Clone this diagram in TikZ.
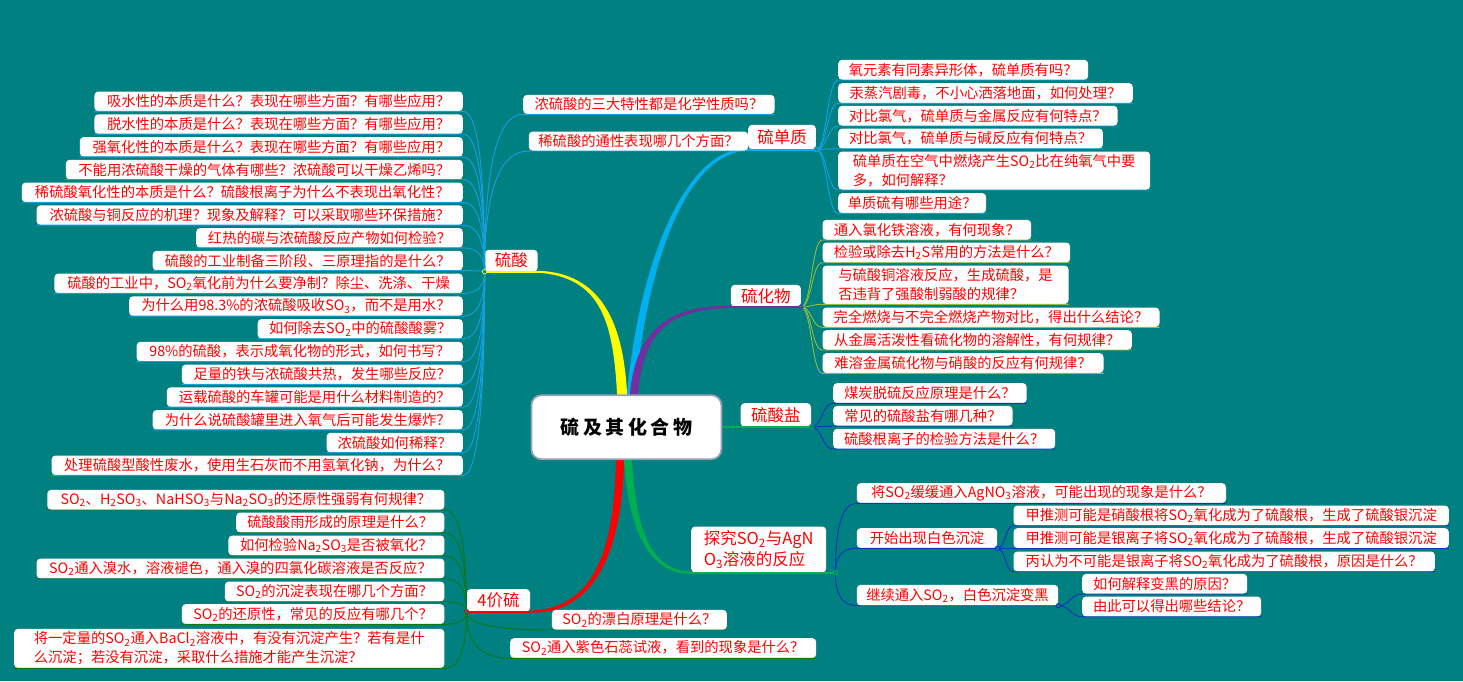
\documentclass[tikz,border=0pt]{standalone}
\usepackage{fontspec}
\setmainfont{Noto Sans CJK SC}
\usetikzlibrary{calc}
\definecolor{bgteal}{RGB}{0,128,128}
\definecolor{qred}{RGB}{255,0,0}
\definecolor{brY}{RGB}{255,255,0}
\definecolor{brB}{RGB}{0,176,240}
\definecolor{brP}{RGB}{112,48,160}
\definecolor{brR}{RGB}{255,0,0}
\definecolor{brG}{RGB}{0,176,80}
\definecolor{lnSky}{RGB}{20,160,225}
\definecolor{lnOlive}{RGB}{146,190,60}
\definecolor{lnNavy}{RGB}{20,50,190}
\definecolor{lnDG}{RGB}{10,120,20}
\definecolor{cborder}{RGB}{150,160,185}
\pgfdeclarelayer{bg}\pgfdeclarelayer{br}\pgfsetlayers{bg,br,main}
\newcommand\qfont{\fontsize{14.3}{19}\selectfont}
\newcommand\bfont{\fontsize{16.5}{21}\selectfont}
\newcommand\sbs[1]{\textsubscript{#1}}
\tikzset{
  qbox/.style={fill=white, text=qred, rounded corners=4pt, inner xsep=6pt, inner ysep=0pt, font=\qfont, align=left},
  bbox/.style={qbox, font=\bfont},
  sk/.style={draw=lnSky, line width=0.9pt},
  ol/.style={draw=lnOlive, line width=0.9pt},
  nv/.style={draw=lnNavy, line width=0.9pt},
  dg/.style={draw=lnDG, line width=0.9pt},
}
% name, left, top, right, bottom, text
\newcommand\boxR[6]{\node[qbox, anchor=south west, minimum width={#4-#2}, minimum height={#5-#3}] (#1) at (#2,#5) {#6};}
\newcommand\boxL[6]{\node[qbox, anchor=south east, minimum width={#4-#2}, minimum height={#5-#3}] (#1) at (#4,#5) {#6};}
\newcommand\brR[6]{\node[bbox, anchor=south west, minimum width={#4-#2}, minimum height={#5-#3}] (#1) at (#2,#5) {#6};}
\newcommand\connQ[4]{\draw[#1] (#2) .. controls ($(#2)!0.667!(#2 |- #3)$) and ($(#3)!0.667!(#2 |- #3)$) .. (#3) -- (#4);}
\newcommand\connS[4]{\draw[#1] (#2) .. controls ($(#2)!0.5!(#2 -| #3)$) and ($(#3)!0.5!(#3 -| #2)$) .. (#3) -- (#4);}
\newcommand\hubdot[2]{\draw[draw=#1, fill=bgteal, line width=0.8pt] (#2) circle (2.2);}
\begin{document}
\begin{tikzpicture}[x=1pt,y=-1pt]
\useasboundingbox (0,0) rectangle (1463,681);
\begin{pgfonlayer}{bg}
\fill[bgteal] (0,0) rectangle (1463,681);
\end{pgfonlayer}

% central node
\node[fill=white, draw=cborder, line width=1.8pt, rounded corners=10pt, inner sep=0pt,
  minimum width=190, minimum height=64, anchor=north west, text=black,
  font=\fontsize{19}{22}\selectfont\bfseries] (C) at (530.5,394.3)
  {硫\kern3.5pt 及\kern3.5pt 其\kern3.5pt 化\kern3.5pt 合\kern3.5pt 物};

% branch nodes
\brR{S}{484.6}{250}{537.5}{271.7}{硫酸}
\brR{H}{748}{125}{815.7}{149.5}{硫单质}
\brR{W}{730.7}{285}{800.7}{307}{硫化物}
\brR{Y}{740.5}{403.3}{810.8}{427}{硫酸盐}
\brR{T}{691}{526.7}{826}{572.7}{探究SO\sbs{2}与AgN\\O\sbs{3}溶液的反应}
\brR{F}{466.5}{589.3}{530}{611.7}{4价硫}

% sulfuric acid children (left)
\boxL{s1}{94.6}{91.7}{463}{111.4}{吸水性的本质是什么？表现在哪些方面？有哪些应用？}
\boxL{s2}{94.6}{114.45}{463}{134.15}{脱水性的本质是什么？表现在哪些方面？有哪些应用？}
\boxL{s3}{80}{137.2}{463}{156.9}{强氧化性的本质是什么？表现在哪些方面？有哪些应用？}
\boxL{s4}{66}{159.95}{463}{179.65}{不能用浓硫酸干燥的气体有哪些？浓硫酸可以干燥乙烯吗？}
\boxL{s5}{22}{182.7}{463}{202.4}{稀硫酸氧化性的本质是什么？硫酸根离子为什么不表现出氧化性？}
\boxL{s6}{36.8}{205.45}{463}{225.15}{浓硫酸与铜反应的机理？现象及解释？可以采取哪些环保措施？}
\boxL{s7}{196.4}{228.2}{463}{247.9}{红热的碳与浓硫酸反应产物如何检验？}
\boxL{s8}{152.9}{250.95}{463}{270.65}{硫酸的工业制备三阶段、三原理指的是什么？}
\boxL{s9}{54.6}{273.7}{463}{293.4}{硫酸的工业中，SO\sbs{2}氧化前为什么要净制？除尘、洗涤、干燥}
\boxL{s10}{129.3}{296.45}{463}{316.15}{为什么用98.3\%的浓硫酸吸收SO\sbs{3}，而不是用水？}
\boxL{s11}{257.9}{319.2}{463}{338.9}{如何除去SO\sbs{2}中的硫酸酸雾？}
\boxL{s12}{136.8}{341.95}{463}{361.65}{98\%的硫酸，表示成氧化物的形式，如何书写？}
\boxL{s13}{182}{364.7}{463}{384.4}{足量的铁与浓硫酸共热，发生哪些反应？}
\boxL{s14}{167}{387.45}{463}{407.15}{运载硫酸的车罐可能是用什么材料制造的？}
\boxL{s15}{152.9}{410.2}{463}{429.9}{为什么说硫酸罐里进入氧气后可能发生爆炸？}
\boxL{s16}{326.8}{432.95}{463}{452.65}{浓硫酸如何稀释？}
\boxL{s17}{51.8}{455.7}{463}{475.4}{处理硫酸型酸性废水，使用生石灰而不用氢氧化钠，为什么？}
% sulfuric acid children (right)
\boxR{sa}{523}{95}{774.4}{114.3}{浓硫酸的三大特性都是化学性质吗？}
\boxR{sb}{528.6}{131.7}{748}{151}{稀硫酸的通性表现哪几个方面？}

% sulfur element children
\boxR{c1}{838}{60}{1088}{80}{氧元素有同素异形体，硫单质有吗？}
\boxR{c2}{838}{83.3}{1132.6}{103.3}{汞蒸汽剧毒，不小心洒落地面，如何处理？}
\boxR{c3}{838}{106}{1117.4}{126}{对比氯气，硫单质与金属反应有何特点？}
\boxR{c4}{838}{128.7}{1102.7}{148.7}{对比氯气，硫单质与碱反应有何特点？}
\boxR{c5}{838}{151.7}{1150}{190}{硫单质在空气中燃烧产生SO\sbs{2}比在纯氧气中要\\多，如何解释？}
\boxR{c6}{838}{193.3}{986}{213.3}{单质硫有哪些用途？}

% sulfide children
\boxR{d1}{822.3}{220}{1031}{240}{通入氯化铁溶液，有何现象？}
\boxR{d2}{822.3}{242.7}{1070}{262.7}{检验或除去H\sbs{2}S常用的方法是什么？}
\boxR{d3}{822.3}{265.7}{1068.3}{304.3}{与硫酸铜溶液反应，生成硫酸，是\\否违背了强酸制弱酸的规律？}
\boxR{d4}{822.3}{307.7}{1159.3}{327.3}{完全燃烧与不完全燃烧产物对比，得出什么结论？}
\boxR{d5}{822.3}{330.3}{1131.7}{350}{从金属活泼性看硫化物的溶解性，有何规律？}
\boxR{d6}{822.3}{353.3}{1103.3}{373.3}{难溶金属硫化物与硝酸的反应有何规律？}

% sulfate children
\boxR{e1}{833}{383.3}{1026.5}{403.3}{煤炭脱硫反应原理是什么？}
\boxR{e2}{833}{406}{1012.4}{426}{常见的硫酸盐有哪几种？}
\boxR{e3}{833}{429}{1055}{449}{硫酸根离子的检验方法是什么？}

% SO2 + AgNO3 children
\boxR{f1}{856.6}{483.3}{1225.8}{503.3}{将SO\sbs{2}缓缓通入AgNO\sbs{3}溶液，可能出现的现象是什么？}
\boxR{f2}{856.6}{528.3}{997}{548.3}{开始出现白色沉淀}
\boxR{f3}{856.6}{585}{1058}{605.7}{继续通入SO\sbs{2}，白色沉淀变黑}
\boxR{g1}{1013.3}{505.7}{1448.6}{525.7}{甲推测可能是硝酸根将SO\sbs{2}氧化成为了硫酸根，生成了硫酸银沉淀}
\boxR{g2}{1013.3}{528.3}{1448.6}{548.3}{甲推测可能是银离子将SO\sbs{2}氧化成为了硫酸根，生成了硫酸银沉淀}
\boxR{g3}{1013.3}{551.7}{1434.7}{571.7}{丙认为不可能是银离子将SO\sbs{2}氧化成为了硫酸根，原因是什么？}
\boxR{h1}{1082}{574}{1247}{594}{如何解释变黑的原因？}
\boxR{h2}{1082}{596.7}{1261}{616.7}{由此可以得出哪些结论？}

% +4 sulfur children
\boxL{k1}{47.5}{490}{444.6}{510}{SO\sbs{2}、H\sbs{2}SO\sbs{3}、NaHSO\sbs{3}与Na\sbs{2}SO\sbs{3}的还原性强弱有何规律？}
\boxL{k2}{236.4}{512.7}{444.6}{532.7}{硫酸酸雨形成的原理是什么？}
\boxL{k3}{228.6}{535.7}{444.6}{555.7}{如何检验Na\sbs{2}SO\sbs{3}是否被氧化？}
\boxL{k4}{36.8}{558.7}{444.6}{578.7}{SO\sbs{2}通入溴水，溶液褪色，通入溴的四氯化碳溶液是否反应？}
\boxL{k5}{225}{581.7}{444.6}{601.7}{SO\sbs{2}的沉淀表现在哪几个方面？}
\boxL{k6}{182}{604.3}{444.6}{624.3}{SO\sbs{2}的还原性，常见的反应有哪几个？}
\boxL{k7}{14.3}{629}{444.6}{668.3}{将一定量的SO\sbs{2}通入BaCl\sbs{2}溶液中，有没有沉淀产生？若有是什\\么沉淀；若没有沉淀，采取什么措施才能产生沉淀？}
\boxR{m1}{551.7}{610}{726.7}{630}{SO\sbs{2}的漂白原理是什么？}
\boxR{m2}{510}{638.3}{816}{658.3}{SO\sbs{2}通入紫色石蕊试液，看到的现象是什么？}

% hubs
\coordinate (hS) at (S.south west);
\coordinate (hH) at (H.south east);
\coordinate (hW) at (W.south east);
\coordinate (hY) at (Y.south east);
\coordinate (hT) at ([xshift=9pt]T.south east);
\coordinate (hF) at (F.south west);
\coordinate (hF2) at (f2.south east);
\coordinate (hF3) at (f3.south east);

% thick tapered main branches
\begin{pgfonlayer}{br}
\fill[brY] (617,400) -- (617,393) .. controls (613,320) and (600,277) .. ([yshift=-1pt]S.south east)
  -- ([yshift=1pt]S.south east) .. controls (600,273) and (623,320) .. (627,393) -- (627,400) -- cycle;
\fill[brB] (627,400) -- (627,393) .. controls (641,250) and (690,146.5) .. ([yshift=1pt]H.south west)
  -- ([yshift=-1pt]H.south west) .. controls (690,152.5) and (649,250) .. (635,393) -- (635,400) -- cycle;
\fill[brP] (630,400) -- (630,393) .. controls (636,330) and (670,304.5) .. ([yshift=1pt]W.south west)
  -- ([yshift=-1pt]W.south west) .. controls (670,309.5) and (644,330) .. (638,393) -- (638,400) -- cycle;
\fill[brR] (616,452) -- (616,459) .. controls (614,560) and (590,608) .. ([yshift=1pt]F.south east)
  -- ([yshift=-1pt]F.south east) .. controls (590,614) and (622,560) .. (624,459) -- (624,452) -- cycle;
\fill[brG] (624,452) -- (624,459) .. controls (628,530) and (650,575) .. ([yshift=-1pt]T.south west)
  -- ([yshift=1pt]T.south west) .. controls (650,570) and (636,530) .. (632,459) -- (632,452) -- cycle;
\draw[brG, line width=2pt] (C.east |- Y.south west) -- (Y.south west);
\end{pgfonlayer}

% branch underlines
\draw[brY, line width=2pt] (S.south east) -- (hS);
\draw[brB, line width=2pt] (H.south west) -- (hH);
\draw[brP, line width=2pt] (W.south west) -- (hW);
\draw[brG, line width=2pt] (Y.south west) -- (hY);
\draw[brR, line width=2pt] (F.south east) -- (hF);
\draw[brG, line width=2pt] (T.south west) -- (hT);

% connectors: sulfuric acid
\foreach \i in {1,...,17} {\connQ{sk}{hS}{s\i.south east}{s\i.south west}}
\connQ{sk}{hS}{sa.south west}{sa.south east}
\connQ{sk}{hS}{sb.south west}{sb.south east}
% sulfur element
\foreach \i in {1,...,6} {\connS{sk}{hH}{c\i.south west}{c\i.south east}}
% sulfides
\foreach \i in {1,...,6} {\connS{ol}{hW}{d\i.south west}{d\i.south east}}
% sulfates
\foreach \i in {1,2,3} {\connS{nv}{hY}{e\i.south west}{e\i.south east}}
% SO2 + AgNO3
\foreach \i in {1,2,3} {\connQ{nv}{hT}{f\i.south west}{f\i.south east}}
\foreach \i in {1,2,3} {\connS{nv}{hF2}{g\i.south west}{g\i.south east}}
\foreach \i in {1,2} {\connS{nv}{hF3}{h\i.south west}{h\i.south east}}
% +4 sulfur
\foreach \i in {1,...,7} {\connQ{dg}{hF}{k\i.south east}{k\i.south west}}
\connQ{dg}{hF}{m1.south west}{m1.south east}
\connQ{dg}{hF}{m2.south west}{m2.south east}

% hub dots
\hubdot{brY}{hS}
\hubdot{brB}{hH}
\hubdot{brP}{hW}
\hubdot{brG}{hY}
\hubdot{brG}{hT}
\hubdot{lnNavy}{hF2}
\hubdot{lnNavy}{hF3}
\hubdot{brR}{hF}
\end{tikzpicture}
\end{document}
